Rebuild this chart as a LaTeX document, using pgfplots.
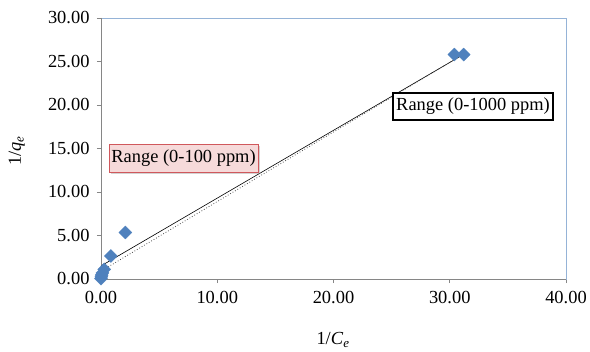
\documentclass[border=0pt]{standalone}
\usepackage{fontspec}
\setmainfont{Liberation Serif}
\usepackage{pgfplots}
\pgfplotsset{compat=1.18}
\usetikzlibrary{shadows}
\definecolor{ptblue}{HTML}{4F81BD}
\definecolor{axgray}{HTML}{868686}
\definecolor{frameblue}{HTML}{95B3D7}
\definecolor{boxpink}{HTML}{F6DADA}
\definecolor{boxred}{HTML}{D0585C}
\begin{document}
\begin{tikzpicture}
\path[use as bounding box] (-101bp,-73bp) rectangle (489bp,279bp);
\begin{axis}[
  at={(0,0)}, anchor=south west,
  scale only axis, width=465bp, height=261bp,
  xmin=0, xmax=40, ymin=0, ymax=30,
  xtick={0,10,20,30,40}, ytick={0,5,10,15,20,25,30},
  axis line style={draw=frameblue, line width=0.8pt},
  tick style={draw=axgray, line width=0.6pt},
  tick align=outside, major tick length=4bp,
  xtick pos=bottom, ytick pos=left,
  tick label style={font=\fontsize{18.5}{22}\selectfont},
  /pgf/number format/.cd, fixed, fixed zerofill, precision=2, assume math mode=true,
  /pgfplots/.cd,
  xticklabel style={yshift=-5bp},
  yticklabel style={xshift=-4bp},
  xlabel={1/\textit{C}\textsubscript{\textit{e}}},
  ylabel={1/\textit{q}\textsubscript{\textit{e}}},
  label style={font=\fontsize{18.5}{22}\selectfont},
  xlabel style={at={(axis description cs:0.499,-0.234)}, anchor=center},
  ylabel style={at={(axis description cs:-0.181,0.49)}, anchor=center},
  clip=false,
]
\draw[axgray, line width=0.8pt] (rel axis cs:0,1) -- (rel axis cs:0,0) -- (rel axis cs:1,0);
\addplot[black, line width=0.6pt, forget plot] coordinates {(0,1.5) (31.3,25.9)};
\addplot[black!70, dotted, line width=0.8pt, forget plot] coordinates {(0,0.9) (31.0,25.7)};
\addplot[only marks, mark=square*, mark size=4.6bp, mark options={rotate=45, fill=ptblue, draw=ptblue}] coordinates {
  (0.00,0.05) (0.03,0.25) (0.06,0.45) (0.12,0.7) (0.28,1.1) (0.85,2.65) (2.1,5.35) (30.4,25.8) (31.2,25.8)};
\node[draw=boxred, fill=boxpink, line width=1pt, inner sep=2bp, minimum width=149bp, minimum height=28bp, drop shadow={shadow xshift=1.5bp, shadow yshift=-1.5bp, opacity=0.35}, font=\fontsize{18.5}{22}\selectfont] at (axis cs:7.1,13.85) {Range (0-100 ppm)};
\node[draw=black, fill=white, line width=2.5pt, inner sep=2bp, minimum width=160bp, minimum height=27bp, font=\fontsize{18.5}{22}\selectfont] at (axis cs:32.0,19.83) {Range (0-1000 ppm)};
\end{axis}
\end{tikzpicture}
\end{document}
